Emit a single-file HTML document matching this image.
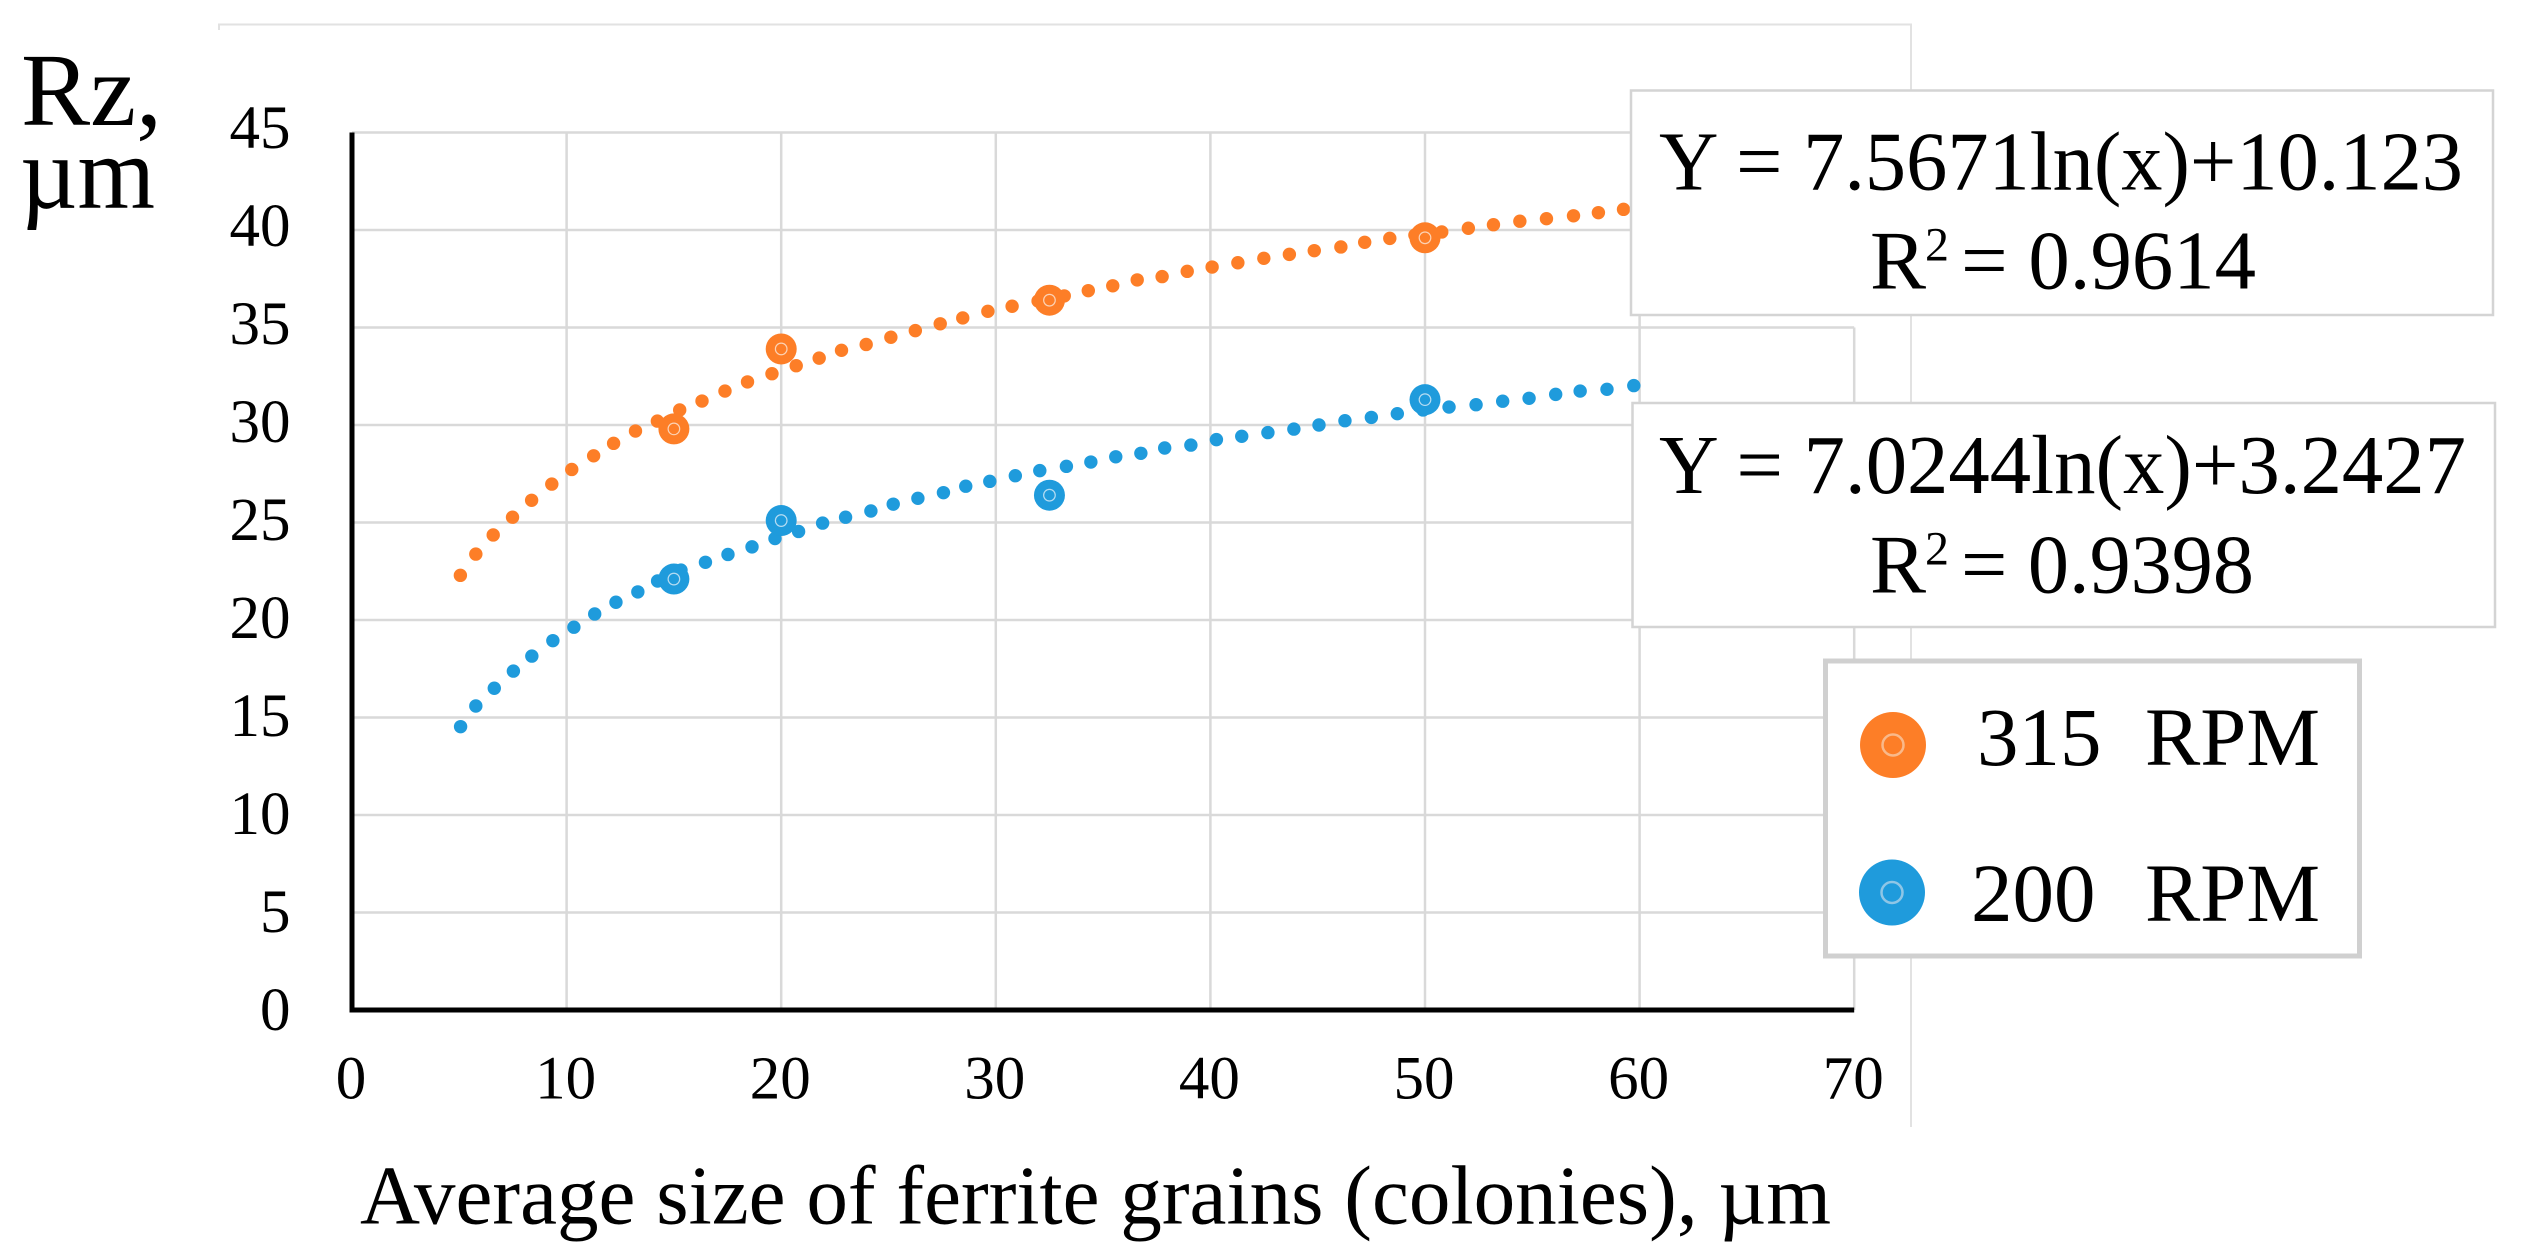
<!DOCTYPE html>
<html lang="en">
<head>
<meta charset="utf-8">
<title>Rz vs average size of ferrite grains</title>
<style>
  html, body { margin: 0; padding: 0; background: #ffffff; }
  svg { display: block; }
  text { font-family: "Liberation Serif", "DejaVu Serif", serif; fill: #000; }
</style>
</head>
<body>
<svg id="chart" xmlns="http://www.w3.org/2000/svg" width="2526" height="1256" viewBox="0 0 2526 1256">
  <rect x="0" y="0" width="2526" height="1256" fill="#ffffff"/>
  <path d="M219 30V24.5H1911V1127" fill="none" stroke="#e2e2e2" stroke-width="2"/>
  <g id="grid"></g>
  <g id="trends"></g>
  <g id="points"></g>
  <g id="axes"></g>
  <g id="ticks"></g>

  <g>
    <text x="21" y="125" font-size="104" textLength="141" lengthAdjust="spacingAndGlyphs">Rz,</text>
    <text x="20" y="208" font-size="104" textLength="135" lengthAdjust="spacingAndGlyphs">µm</text>
  </g>
  <text x="360" y="1223.5" font-size="84" textLength="1471" lengthAdjust="spacingAndGlyphs">Average size of ferrite grains (colonies), µm</text>

  <g>
    <rect x="1631" y="90.5" width="862" height="224.5" fill="#ffffff" stroke="#d4d4d4" stroke-width="2.5"/>
    <text x="1659" y="189.5" font-size="84" textLength="804" lengthAdjust="spacingAndGlyphs">Y = 7.5671ln(x)+10.123</text>
    <text y="288.5" font-size="84"><tspan x="1870">R</tspan><tspan x="1925" y="260.5" font-size="48">2</tspan><tspan x="1961" y="288.5" textLength="295" lengthAdjust="spacingAndGlyphs">= 0.9614</tspan></text>
  </g>
  <g>
    <rect x="1632.5" y="403" width="862.5" height="224" fill="#ffffff" stroke="#d4d4d4" stroke-width="2.5"/>
    <text x="1659" y="493" font-size="84" textLength="807" lengthAdjust="spacingAndGlyphs">Y = 7.0244ln(x)+3.2427</text>
    <text y="592.5" font-size="84"><tspan x="1870">R</tspan><tspan x="1925" y="564.5" font-size="48">2</tspan><tspan x="1961" y="592.5" textLength="293" lengthAdjust="spacingAndGlyphs">= 0.9398</tspan></text>
  </g>

  <g>
    <rect x="1825.5" y="661" width="534" height="295" fill="#ffffff" stroke="#d0d0d0" stroke-width="5"/>
    <g>
      <circle cx="1893" cy="745" r="33" fill="#fd7e27"/>
      <circle cx="1893" cy="745" r="10.5" fill="none" stroke="#f9b98a" stroke-width="2.5"/>
      <text y="765" font-size="83"><tspan x="1977">315</tspan><tspan x="2145" textLength="175" lengthAdjust="spacingAndGlyphs">RPM</tspan></text>
    </g>
    <g>
      <circle cx="1892" cy="892.5" r="33" fill="#1f9bdc"/>
      <circle cx="1892" cy="892.5" r="10.5" fill="none" stroke="#8fc6e6" stroke-width="2.5"/>
      <text y="921" font-size="83"><tspan x="1971">200</tspan><tspan x="2145" textLength="175" lengthAdjust="spacingAndGlyphs">RPM</tspan></text>
    </g>
  </g>
</svg>

<script>
// Tick labels
var xTicks = [0, 10, 20, 30, 40, 50, 60, 70];
var yTicks = [0, 5, 10, 15, 20, 25, 30, 35, 40, 45];

// Measured points
var pointsX = [15, 20, 32.5, 50];
var rpm315Values = [29.8, 33.9, 36.4, 39.6];
var rpm200Values = [22.1, 25.1, 26.4, 31.3];

// Dotted trend line dots
var trend315X = [5.05,5.77,6.58,7.48,8.37,9.31,10.24,11.26,12.19,13.21,14.23,15.27,16.31,17.38,18.43,19.57,20.70,21.77,22.81,23.96,25.11,26.25,27.41,28.46,29.63,30.76,31.97,33.19,34.31,35.45,36.59,37.75,38.92,40.08,41.28,42.49,43.68,44.84,46.08,47.19,48.36,49.53,50.78,52.02,53.19,54.42,55.66,56.92,58.08,59.25];
var trend315Y = [22.29,23.38,24.36,25.27,26.14,26.97,27.72,28.42,29.06,29.69,30.20,30.77,31.23,31.74,32.21,32.63,33.04,33.43,33.83,34.13,34.50,34.84,35.19,35.49,35.83,36.09,36.36,36.62,36.89,37.14,37.44,37.61,37.88,38.10,38.32,38.55,38.75,38.94,39.13,39.37,39.57,39.74,39.90,40.09,40.27,40.45,40.58,40.73,40.89,41.06];
var trend200X = [5.06,5.77,6.63,7.52,8.38,9.36,10.34,11.31,12.30,13.32,14.24,15.33,16.47,17.52,18.64,19.71,20.81,21.93,23.00,24.18,25.22,26.37,27.56,28.60,29.72,30.91,32.05,33.29,34.43,35.59,36.76,37.87,39.09,40.28,41.46,42.68,43.89,45.06,46.27,47.50,48.71,49.91,51.12,52.38,53.62,54.85,56.09,57.23,58.48,59.73];
var trend200Y = [14.53,15.59,16.50,17.38,18.15,18.94,19.63,20.31,20.91,21.44,22.00,22.56,22.96,23.36,23.75,24.18,24.54,24.97,25.27,25.59,25.94,26.24,26.53,26.86,27.11,27.40,27.66,27.88,28.10,28.37,28.55,28.82,28.97,29.25,29.42,29.61,29.79,30.00,30.22,30.39,30.58,30.77,30.92,31.04,31.22,31.37,31.57,31.74,31.83,32.02];

var SVG_NS = 'http://www.w3.org/2000/svg';
var ORANGE = '#fd7e27';
var BLUE = '#1f9bdc';

function xScale(v) { return 352 + v * 21.46; }
function yScale(v) { return 1010 - v * 19.5; }
function yLabelBaseline(v) { return 1030 - v * 19.6; }

function make(tag, attrs, parent) {
  var el = document.createElementNS(SVG_NS, tag);
  for (var k in attrs) { el.setAttribute(k, attrs[k]); }
  parent.appendChild(el);
  return el;
}

var grid = document.getElementById('grid');
var axes = document.getElementById('axes');
var ticks = document.getElementById('ticks');
var trends = document.getElementById('trends');
var points = document.getElementById('points');

yTicks.forEach(function (t) {
  if (t === 0) { return; }
  var line = make('line', { x1: xScale(0), x2: xScale(70), y1: yScale(t), y2: yScale(t), stroke: '#d9d9d9', 'stroke-width': 2.5 }, grid);
  
  
});
xTicks.forEach(function (t) {
  if (t === 0) { return; }
  var top = t === 70 ? yScale(35) : yScale(45);
  var line = make('line', { x1: xScale(t), x2: xScale(t), y1: top, y2: yScale(0), stroke: '#d9d9d9', 'stroke-width': 2.5 }, grid);
  
  
});

var yAxis = make('line', { x1: xScale(0), x2: xScale(0), y1: yScale(45), y2: yScale(0) + 2.5, stroke: '#000', 'stroke-width': 5 }, axes);


var xAxis = make('line', { x1: xScale(0) - 2.5, x2: xScale(70), y1: yScale(0), y2: yScale(0), stroke: '#000', 'stroke-width': 5 }, axes);



yTicks.forEach(function (t) {
  var label = make('text', { x: 290.5, y: yLabelBaseline(t), 'font-size': 61, 'text-anchor': 'end' }, ticks);
  
  
  label.textContent = String(t);
});
xTicks.forEach(function (t) {
  var label = make('text', { x: xScale(t) - 1, y: 1098.5, 'font-size': 61, 'text-anchor': 'middle' }, ticks);
  
  
  label.textContent = String(t);
});

function drawTrend(xs, ys, color) {
  xs.forEach(function (x, i) {
    var dot = make('circle', { cx: xScale(x), cy: yScale(ys[i]), r: 6.7, fill: color }, trends);
    
    
  });
}
function drawPoints(xs, ys, color, ringColor) {
  xs.forEach(function (x, i) {
    var dot = make('circle', { cx: xScale(x), cy: yScale(ys[i]), r: 15.5, fill: color }, points);
    
    
    var ring = make('circle', { cx: xScale(x), cy: yScale(ys[i]), r: 5.8, fill: 'none', stroke: ringColor, 'stroke-width': 1.2 }, points);
    
    
  });
}

drawTrend(trend315X, trend315Y, ORANGE);
drawTrend(trend200X, trend200Y, BLUE);
drawPoints(pointsX, rpm315Values, ORANGE, '#fcd2b4');
drawPoints(pointsX, rpm200Values, BLUE, '#b5dcf2');
</script>
</body>
</html>
